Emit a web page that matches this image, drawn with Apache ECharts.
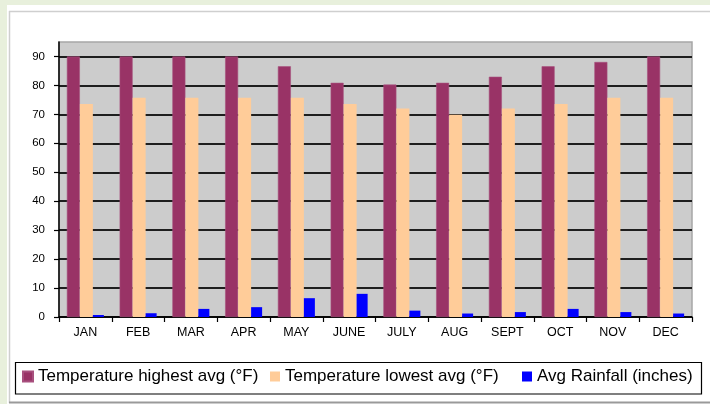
<!DOCTYPE html>
<html>
<head>
<meta charset="utf-8">
<script src="https://cdn.jsdelivr.net/npm/echarts@6/dist/echarts.min.js"></script>
<style>
html,body{margin:0;padding:0;background:#e8f0dc;}
#c{width:710px;height:404px;}
</style>
</head>
<body>
<div id="c"></div>
<script>
const categories = ['JAN','FEB','MAR','APR','MAY','JUNE','JULY','AUG','SEPT','OCT','NOV','DEC'];
const tempHigh = [90, 90, 90, 90, 86.6, 80.9, 80.3, 80.9, 83, 86.6, 88.1, 90];
const tempLow = [73.6, 75.7, 75.7, 75.7, 75.7, 73.6, 72, 69.9, 72, 73.6, 75.7, 75.7];
const rainfall = [0.7, 1.3, 2.8, 3.4, 6.5, 8, 2.2, 1.2, 1.7, 2.8, 1.7, 1.2];
const yTicks = [0, 10, 20, 30, 40, 50, 60, 70, 80, 90];
const seriesNames = ['Temperature highest avg (°F)', 'Temperature lowest avg (°F)', 'Avg Rainfall (inches)'];
const colors = ['#993366', '#FFCC99', '#0000FF'];

const chart = echarts.init(document.getElementById('c'), null, {renderer: 'canvas'});
const font = 'Liberation Sans, Arial, sans-serif';

function legendFor(i, left) {
  return {
    data: [seriesNames[i]],
    left: left,
    top: 368,
    padding: 0,
    itemWidth: 10,
    itemHeight: 10,
    icon: 'rect',
    selectedMode: false,
    textStyle: {fontFamily: font, fontSize: 17, color: '#000'}
  };
}

chart.setOption({
  animation: false,
  color: colors,
  graphic: [
    {type: 'rect', shape: {x: 7, y: 5, width: 710, height: 410}, style: {fill: '#fff'}, z: -10, silent: true},
    {type: 'line', shape: {x1: 9, y1: 11.5, x2: 710, y2: 11.5}, style: {stroke: '#cfcfcf', lineWidth: 1.5}, z: -9, silent: true},
    {type: 'line', shape: {x1: 9.5, y1: 11, x2: 9.5, y2: 403}, style: {stroke: '#cfcfcf', lineWidth: 1.5}, z: -9, silent: true},
    {type: 'line', shape: {x1: 9, y1: 402.5, x2: 710, y2: 402.5}, style: {stroke: '#9a9a9a', lineWidth: 2}, z: -9, silent: true},
    {type: 'rect', shape: {x: 15.5, y: 362.5, width: 686, height: 31.5}, style: {fill: '#fff', stroke: '#000', lineWidth: 1.2}, z: -5, silent: true}
  ],
  legend: [legendFor(0, 22), legendFor(1, 270), legendFor(2, 522)],
  grid: {
    left: 59, right: 18, top: 42, bottom: 87,
    show: true,
    backgroundColor: '#cccccc',
    borderColor: '#a6a6a6',
    borderWidth: 1.5
  },
  xAxis: {
    type: 'category',
    data: categories,
    axisLine: {lineStyle: {color: '#000', width: 1.5}},
    axisTick: {show: true, length: 5, alignWithLabel: false, lineStyle: {color: '#000', width: 1.2}},
    axisLabel: {fontFamily: font, fontSize: 12.5, color: '#000', margin: 9},
    splitLine: {show: false}
  },
  yAxis: {
    type: 'value',
    min: 0,
    max: 95,
    interval: 10,
    axisLine: {show: true, lineStyle: {color: '#000', width: 1.5}},
    axisTick: {show: true, length: 5, customValues: yTicks, lineStyle: {color: '#000', width: 1.2}},
    axisLabel: {fontFamily: font, fontSize: 11.5, color: '#000', margin: 14, customValues: yTicks,
      formatter: v => (v > 90 ? '' : String(v))},
    splitLine: {show: true, lineStyle: {color: '#1e1e1e', width: 1.8}}
  },
  series: [
    {name: seriesNames[0], type: 'bar', data: tempHigh, barWidth: 13, barGap: '0%',
      itemStyle: {color: colors[0], borderColor: '#a8507e', borderWidth: 0.6}},
    {name: seriesNames[1], type: 'bar', data: tempLow, barWidth: 13, barGap: '0%', itemStyle: {color: colors[1]}},
    {name: seriesNames[2], type: 'bar', data: rainfall, barWidth: 11, barGap: '0%', itemStyle: {color: colors[2]}}
  ]
});
</script>
</body>
</html>
